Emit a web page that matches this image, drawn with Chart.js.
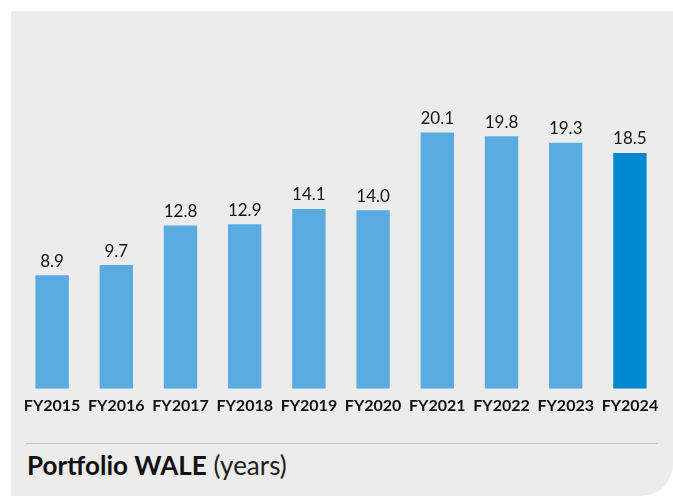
<!DOCTYPE html>
<html>
<head>
<meta charset="utf-8">
<script src="https://cdn.jsdelivr.net/npm/chart.js@4/dist/chart.umd.min.js"></script>
<style>
  html, body { margin: 0; padding: 0; background: #fff; }
  body { width: 673px; height: 496px; position: relative; overflow: hidden; font-family: Lato, sans-serif; }
  .panel {
    position: absolute; left: 11px; top: 11px; width: 662px; height: 485px;
    background: #ececec; border-bottom-right-radius: 32px;
  }
  .rule { position: absolute; left: 26px; top: 443px; width: 632px; height: 0; border-top: 1.5px solid #c6c6c6; }
  .title { position: absolute; left: 27px; top: 449px; font-size: 26px; color: #111; white-space: nowrap; }
  .title b { font-weight: 700; }
  .title span { font-weight: 400; color: #222; }
  canvas { position: absolute; left: 0; top: 0; }
</style>
</head>
<body>
<div class="panel"></div>
<div class="rule"></div>
<div class="title"><b>Portfolio WALE</b> <span>(years)</span></div>
<canvas id="wale" width="673" height="496"></canvas>
<script>
// categories and values
const years = ['FY2015', 'FY2016', 'FY2017', 'FY2018', 'FY2019', 'FY2020', 'FY2021', 'FY2022', 'FY2023', 'FY2024'];
const wale = [8.9, 9.7, 12.8, 12.9, 14.1, 14.0, 20.1, 19.8, 19.3, 18.5];
const barColors = ['#5aace0', '#5aace0', '#5aace0', '#5aace0', '#5aace0', '#5aace0', '#5aace0', '#5aace0', '#5aace0', '#0089d1'];

// value labels above each bar
const valueLabels = {
  id: 'valueLabels',
  afterDatasetsDraw(chart) {
    const ctx = chart.ctx;
    const meta = chart.getDatasetMeta(0);
    ctx.save();
    ctx.font = '17px Lato, sans-serif';
    ctx.fillStyle = '#151515';
    ctx.textAlign = 'center';
    ctx.textBaseline = 'middle';
    meta.data.forEach((bar, i) => {
      ctx.fillText(wale[i].toFixed(1), bar.x, bar.y - 14);
    });
    ctx.restore();
  }
};

new Chart(document.getElementById('wale'), {
  type: 'bar',
  data: {
    labels: years,
    datasets: [{
      data: wale,
      backgroundColor: barColors,
      borderWidth: 0,
      barPercentage: 0.52,
      categoryPercentage: 1
    }]
  },
  options: {
    responsive: false,
    animation: false,
    layout: { padding: { left: 20, right: 11, top: 70, bottom: 74 } },
    scales: {
      x: {
        grid: { display: false, drawTicks: false },
        border: { display: false },
        ticks: {
          color: '#111',
          padding: 7,
          maxRotation: 0,
          font: { family: 'Lato, sans-serif', size: 16, weight: 'bold' }
        }
      },
      y: { display: false, min: 0, max: 25 }
    },
    plugins: {
      legend: { display: false },
      tooltip: { enabled: false }
    }
  },
  plugins: [valueLabels]
});
</script>
</body>
</html>
